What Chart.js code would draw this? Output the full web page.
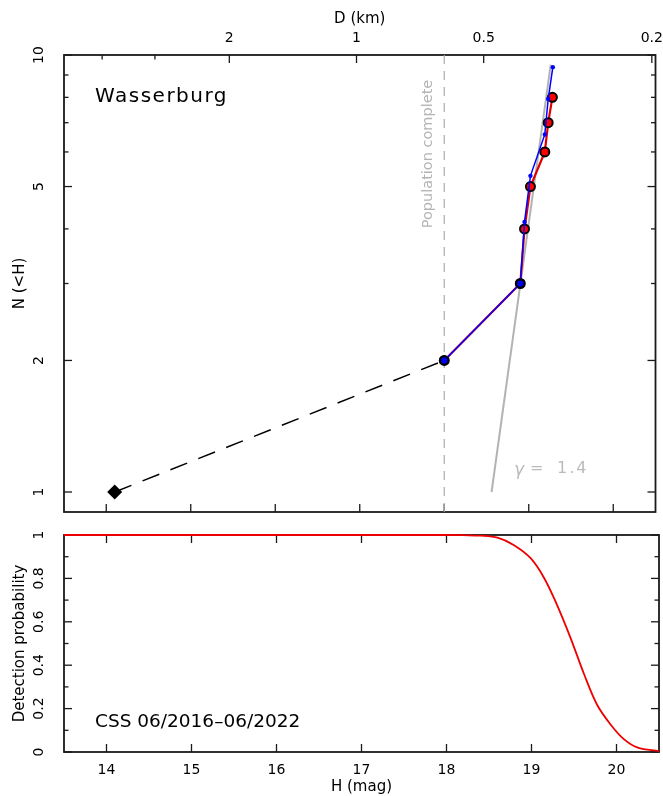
<!DOCTYPE html>
<html><head><meta charset="utf-8">
<script src="https://cdn.jsdelivr.net/npm/chart.js@4.4.1/dist/chart.umd.min.js"></script>
<style>
html,body{margin:0;padding:0;background:#fff;}
#wrap{position:relative;width:663px;height:796px;background:#fff;}
#c1{position:absolute;left:0;top:0;}
#c2{position:absolute;left:0;top:525px;}
</style></head>
<body><div id="wrap"><canvas id="c1" width="663" height="525"></canvas><canvas id="c2" width="663" height="271"></canvas></div>
<script>
// ---- data ----
const H_RED = [18.0, 18.9, 18.95, 19.02, 19.19, 19.23, 19.28];
const N_RED = [2, 3, 4, 5, 6, 7, 8];
const H_BLUE = [18.0, 18.9, 18.95, 19.02, 19.19, 19.23, 19.285];
const N_BLUE = [2, 3, 4.15, 5.29, 6.58, 7.93, 9.38];
const H_EXTRAP = [14.1, 18.0];
const N_EXTRAP = [1, 2];
const H_FIT = [18.56, 19.26];
const N_FIT = [1, 9.5];
const H_COMPLETE = [18.0, 18.0];
const N_COMPLETE = [0.9, 10];
const H_DET = [13.5, 18.0, 18.2, 18.4, 18.6, 18.79, 18.99, 19.15, 19.30, 19.46, 19.62, 19.77, 19.93, 20.09, 20.25, 20.5];
const P_DET = [1, 1, 0.999, 0.997, 0.988, 0.954, 0.893, 0.801, 0.678, 0.525, 0.357, 0.219, 0.127, 0.058, 0.020, 0.004];
const H_TICKS = [14, 15, 16, 17, 18, 19, 20];
const N_TICKS = [1, 2, 5, 10];
const N_MINOR = [3, 4, 6, 7, 8, 9];
const D_TICKS = [2, 1, 0.5, 0.2];
const D_MINOR = [4, 3];
const P_TICKS = [0, 0.2, 0.4, 0.6, 0.8, 1];
const P_MINOR = [0.1, 0.3, 0.5, 0.7, 0.9];
const ALBEDO = 0.29;
const hFromD = d => 5 * Math.log10(1329 / (Math.sqrt(ALBEDO) * d));

const pts = (xs, ys) => xs.map((x, i) => ({x: x, y: ys[i]}));
const FONT = '"DejaVu Sans", sans-serif';
const noPad = s => { s.paddingTop = 0; s.paddingBottom = 0; s.paddingLeft = 0; s.paddingRight = 0; };

function framePlugin(cfg) {
  return {
    id: 'frame',
    beforeDatasetsDraw(chart) {
      const {ctx, chartArea: a} = chart;
      const xs = chart.scales.x, ys = chart.scales.y;
      const MAJ = 8, MIN = 4.5;
      ctx.save();
      ctx.strokeStyle = '#1a1a1a';
      ctx.lineWidth = 1.3;
      const seg = (x1, y1, x2, y2) => { ctx.beginPath(); ctx.moveTo(x1, y1); ctx.lineTo(x2, y2); ctx.stroke(); };
      cfg.xMajor.forEach(v => {
        const p = xs.getPixelForValue(v);
        seg(p, a.bottom, p, a.bottom - MAJ);
        if (cfg.xOnTop) seg(p, a.top, p, a.top + MAJ);
      });
      if (cfg.topScale) {
        const t = chart.scales[cfg.topScale];
        cfg.topMajor.forEach(d => { const p = t.getPixelForValue(hFromD(d)); seg(p, a.top, p, a.top + MAJ); });
        cfg.topMinor.forEach(d => { const p = t.getPixelForValue(hFromD(d)); seg(p, a.top, p, a.top + MIN); });
      }
      cfg.yMajor.forEach(v => {
        const p = ys.getPixelForValue(v);
        seg(a.left, p, a.left + MAJ, p); seg(a.right, p, a.right - MAJ, p);
      });
      cfg.yMinor.forEach(v => {
        const p = ys.getPixelForValue(v);
        seg(a.left, p, a.left + MIN, p); seg(a.right, p, a.right - MIN, p);
      });
      ctx.lineWidth = 1.8;
      ctx.strokeRect(a.left, a.top, a.right - a.left, a.bottom - a.top);
      ctx.restore();
    }
  };
}

const textTop = {
  id: 'textTop',
  afterDatasetsDraw(chart) {
    const {ctx, chartArea: a} = chart;
    ctx.save();
    ctx.textBaseline = 'middle';
    ctx.fillStyle = '#000';
    ctx.font = '20px ' + FONT;
    ctx.letterSpacing = '1.5px';
    ctx.fillText('Wasserburg', a.left + 31, 97);
    ctx.letterSpacing = '0px';
    // population complete label
    ctx.save();
    ctx.translate(428, 154);
    ctx.rotate(-Math.PI / 2);
    ctx.textAlign = 'center';
    ctx.fillStyle = '#b4b4b4';
    ctx.font = '14.5px ' + FONT;
    ctx.fillText('Population complete', 0, 0);
    ctx.restore();
    // gamma label
    ctx.fillStyle = '#bbbbbb';
    ctx.font = 'italic 17px ' + FONT;
    ctx.fillText('\u03b3', 514, 471);
    ctx.font = '16px ' + FONT;
    ctx.fillText('=', 530, 469);
    ctx.letterSpacing = '2px';
    ctx.fillText('1.4', 557, 469);
    ctx.restore();
  }
};

const textBottom = {
  id: 'textBottom',
  afterDatasetsDraw(chart) {
    const {ctx, chartArea: a} = chart;
    ctx.save();
    ctx.textBaseline = 'middle';
    ctx.fillStyle = '#000';
    ctx.font = '18.5px ' + FONT;
    ctx.fillText('CSS 06/2016\u201306/2022', a.left + 31, 197);
    ctx.restore();
  }
};

const tickFont = {family: FONT, size: 14};
const titleFont = {family: FONT, size: 15};

new Chart(document.getElementById('c1'), {
  type: 'line',
  data: {
    datasets: [
      {data: pts(H_BLUE, N_BLUE), borderColor: '#0000ff', borderWidth: 1.5,
       pointRadius: [4, 4, 2.2, 2.2, 2.2, 2.2, 2.2], pointBackgroundColor: '#0000ff',
       pointBorderColor: ['#000', '#000', '#0000ff', '#0000ff', '#0000ff', '#0000ff', '#0000ff'],
       pointBorderWidth: [1.8, 1.8, 0, 0, 0, 0, 0], tension: 0, order: 1},
      {data: pts(H_RED, N_RED), borderColor: '#e00000', borderWidth: 2.2,
       pointRadius: 4.5, pointBackgroundColor: '#ff0000', pointBorderColor: '#000', pointBorderWidth: 2,
       tension: 0, order: 2},
      {data: pts(H_FIT, N_FIT), borderColor: '#b3b3b3', borderWidth: 2, pointRadius: 0, order: 3},
      {data: pts(H_EXTRAP, N_EXTRAP), borderColor: '#000', borderWidth: 1.5, borderDash: [18, 12],
       pointRadius: [7.5, 0], pointStyle: 'rectRot', pointBackgroundColor: '#000', pointBorderColor: '#000',
       pointBorderWidth: 0, order: 4},
      {data: pts(H_COMPLETE, N_COMPLETE), borderColor: '#aaaaaa', borderWidth: 1.2, borderDash: [9, 7],
       pointRadius: 0, order: 5}
    ]
  },
  options: {
    responsive: false, animation: false, devicePixelRatio: 1,
    layout: {padding: {left: 0, right: 4, top: 0, bottom: 13}},
    plugins: {legend: {display: false}, tooltip: {enabled: false}},
    scales: {
      x: {type: 'linear', position: 'bottom', min: 13.5, max: 20.5,
          ticks: {display: false}, grid: {display: false, drawTicks: false}, border: {display: false},
          afterFit: s => { s.height = 0; noPad(s); }},
      x2: {type: 'linear', position: 'top', min: 13.5, max: 20.5,
           afterBuildTicks: s => { s.ticks = D_TICKS.map(d => ({value: hFromD(d)})); },
           ticks: {callback: (v, i) => String(D_TICKS[i]), font: tickFont, color: '#000', padding: 8,
                   autoSkip: false, maxRotation: 0, minRotation: 0},
           grid: {display: false, drawTicks: false}, border: {display: false},
           title: {display: true, text: 'D (km)', font: titleFont, color: '#000', padding: {top: 10, bottom: 0}},
           afterFit: s => { s.height = 55; noPad(s); }},
      y: {type: 'logarithmic', position: 'left', min: 0.9, max: 10,
          afterBuildTicks: s => { s.ticks = N_TICKS.map(v => ({value: v})); },
          ticks: {callback: v => String(v), font: tickFont, color: '#000', padding: 16,
                  minRotation: 90, maxRotation: 90, crossAlign: 'center', autoSkip: false},
          grid: {display: false, drawTicks: false}, border: {display: false},
          title: {display: true, text: 'N (<H)', font: titleFont, color: '#000', padding: {top: 11, bottom: 0}},
          afterFit: s => { s.width = 64; noPad(s); }}
    }
  },
  plugins: [framePlugin({xMajor: H_TICKS, xOnTop: false, topScale: 'x2', topMajor: D_TICKS, topMinor: D_MINOR,
                         yMajor: N_TICKS, yMinor: N_MINOR}), textTop]
});

new Chart(document.getElementById('c2'), {
  type: 'line',
  data: {
    datasets: [
      {data: pts(H_DET, P_DET), borderColor: '#ee0000', borderWidth: 1.8, pointRadius: 0,
       tension: 0.35, clip: 4}
    ]
  },
  options: {
    responsive: false, animation: false, devicePixelRatio: 1,
    layout: {padding: {left: 0, right: 4, top: 10, bottom: 0}},
    plugins: {legend: {display: false}, tooltip: {enabled: false}},
    scales: {
      x: {type: 'linear', position: 'bottom', min: 13.5, max: 20.5,
          afterBuildTicks: s => { s.ticks = H_TICKS.map(v => ({value: v})); },
          ticks: {callback: v => String(v), font: tickFont, color: '#000', padding: 10,
                  autoSkip: false, maxRotation: 0, minRotation: 0},
          grid: {display: false, drawTicks: false}, border: {display: false},
          title: {display: true, text: 'H (mag)', font: titleFont, color: '#000', padding: {top: 0, bottom: 0}},
          afterFit: s => { s.height = 44; noPad(s); }},
      y: {type: 'linear', position: 'left', min: 0, max: 1,
          afterBuildTicks: s => { s.ticks = P_TICKS.map(v => ({value: v})); },
          ticks: {callback: v => String(+v.toFixed(1)), font: tickFont, color: '#000', padding: 14,
                  minRotation: 90, maxRotation: 90, crossAlign: 'center', autoSkip: false},
          grid: {display: false, drawTicks: false}, border: {display: false},
          title: {display: true, text: 'Detection probability', font: titleFont, color: '#000', padding: {top: 11, bottom: 0}},
          afterFit: s => { s.width = 64; noPad(s); }}
    }
  },
  plugins: [framePlugin({xMajor: H_TICKS, xOnTop: true, topScale: null, yMajor: P_TICKS, yMinor: P_MINOR}), textBottom]
});
</script>
</body></html>
